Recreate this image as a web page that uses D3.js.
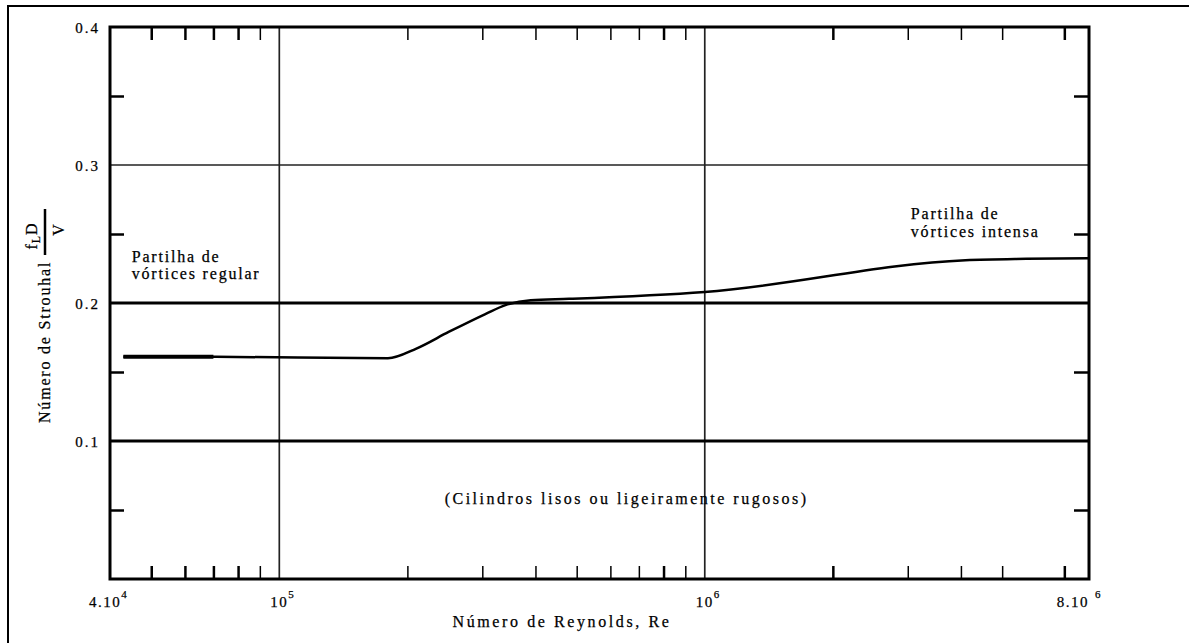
<!DOCTYPE html>
<html>
<head>
<meta charset="utf-8">
<script src="https://cdnjs.cloudflare.com/ajax/libs/d3/7.8.5/d3.min.js"></script>
<style>
  body { margin: 0; background: #fff; }
  svg text { font-family: "Liberation Serif", "DejaVu Serif", serif; fill: #000; stroke: #000; stroke-width: 0.25px; }
</style>
</head>
<body>
<script>
// Strouhal number vs Reynolds number
var reValues = [4.3e4, 7.0e4, 1.8e5, 2.1e5, 2.5e5, 3.05e5, 3.4e5, 3.9e5, 4.8e5, 1e6, 4.1e6, 5.7e6, 8e6];
var stValues = [0.161, 0.161, 0.160, 0.167, 0.179, 0.192, 0.1985, 0.202, 0.203, 0.208, 0.231, 0.232, 0.2325];

var xMinorTicks = [5e4, 6e4, 7e4, 8e4, 9e4, 2e5, 3e5, 4e5, 5e5, 6e5, 7e5, 8e5, 9e5, 2e6, 3e6, 4e6, 5e6, 7e6];
var xLabelValues = [4e4, 1e5, 1e6, 8e6];
var xLabelMant = ["4.10", "10", "10", "8.10"];
var xLabelExp = ["4", "5", "6", "6"];
var xGridValues = [1e5, 1e6];

var yLabelValues = [0.1, 0.2, 0.3, 0.4];
var yMinorTicks = [0.05, 0.15, 0.25, 0.35];
var yGridValues = [0.1, 0.2, 0.3];

var svgWidth = 1189;
var svgHeight = 643;
var margin = { top: 27, left: 110, right: 100, bottom: 64 };
var chartWidth = svgWidth - margin.left - margin.right;
var chartHeight = svgHeight - margin.top - margin.bottom;

var svg = d3.select('body')
    .append('svg')
    .attr('width', svgWidth)
    .attr('height', svgHeight)
    .attr('font-family', '"Liberation Serif", "DejaVu Serif", serif');

// outer frame (open on right and bottom, like the scan)
svg.append('rect')
    .attr('x', 8).attr('y', 6)
    .attr('width', 1300).attr('height', 800)
    .attr('fill', 'none').attr('stroke', '#000').attr('stroke-width', 2);

var chartGroup = svg.append('g')
    .attr('transform', `translate(${margin.left},${margin.top})`);

var xScale = d3.scaleLog().domain([4e4, 8e6]).range([0, chartWidth]);
var yScale = d3.scaleLinear().domain([0, 0.4]).range([chartHeight, 0]);

// grid lines
chartGroup.selectAll('.vgrid')
    .data(xGridValues)
    .enter()
    .append('line')
    .attr('x1', d => xScale(d)).attr('x2', d => xScale(d))
    .attr('y1', 0).attr('y2', chartHeight)
    .attr('stroke', '#222').attr('stroke-width', 1.7);

chartGroup.selectAll('.hgrid')
    .data(yGridValues)
    .enter()
    .append('line')
    .attr('x1', 0).attr('x2', chartWidth)
    .attr('y1', d => yScale(d)).attr('y2', d => yScale(d))
    .attr('stroke', d => d == 0.3 ? '#222' : '#000')
    .attr('stroke-width', d => d == 0.3 ? 1.7 : 3);

// minor ticks on all four sides, pointing inward
var heavy = [5e4, 6e4, 7e4, 8e4, 8e5, 2e6, 7e6];
function styleTicks(g, isX) {
    g.select('.domain').remove();
    g.selectAll('.tick line')
        .attr('stroke', '#000')
        .attr('stroke-width', d => (isX && heavy.indexOf(d) < 0) ? 1.5 : 2.5);
}
chartGroup.append('g')
    .attr('transform', `translate(0,${chartHeight})`)
    .call(d3.axisTop(xScale).tickValues(xMinorTicks).tickSize(13).tickFormat(''))
    .call(g => styleTicks(g, true));
chartGroup.append('g')
    .call(d3.axisBottom(xScale).tickValues(xMinorTicks).tickSize(13).tickFormat(''))
    .call(g => styleTicks(g, true));
chartGroup.append('g')
    .call(d3.axisRight(yScale).tickValues(yMinorTicks).tickSize(14).tickFormat(''))
    .call(g => styleTicks(g, false));
chartGroup.append('g')
    .attr('transform', `translate(${chartWidth},0)`)
    .call(d3.axisLeft(yScale).tickValues(yMinorTicks).tickSize(15).tickFormat(''))
    .call(g => styleTicks(g, false));

// y tick labels
var yAxis = chartGroup.append('g')
    .call(d3.axisLeft(yScale).tickValues(yLabelValues).tickSize(0).tickPadding(10).tickFormat(d3.format('.1f')));
yAxis.attr('font-family', null);
yAxis.select('.domain').remove();
yAxis.selectAll('text')
    .attr('font-size', '15px')
    .attr('letter-spacing', '2px')
    .attr('dy', '0.38em');

// x tick labels with superscript exponents
var xLab = chartGroup.selectAll('.xlab')
    .data(xLabelValues)
    .enter()
    .append('text')
    .attr('y', chartHeight + 28)
    .attr('font-size', '15px')
    .attr('letter-spacing', '1.5px');
xLab.append('tspan').text((d, i) => xLabelMant[i]);
xLab.append('tspan')
    .attr('dy', -9)
    .attr('font-size', '11px')
    .attr('dx', (d, i) => i == 3 ? 6 : 0)
    .text((d, i) => xLabelExp[i]);
// mantissa centred on the tick, last one ending at the axis end
xLab.attr('x', function (d, i) {
    var w = this.firstChild.getComputedTextLength();
    if (i == 3) return xScale(d) - w;
    return xScale(d) - w / 2 + (i == 0 ? -5 : 0);
});

// the curve
var line = d3.line()
    .x((d, i) => xScale(reValues[i]))
    .y(d => yScale(d))
    .curve(d3.curveMonotoneX);

chartGroup.append('path')
    .datum(stValues)
    .attr('d', line)
    .attr('fill', 'none')
    .attr('stroke', '#000')
    .attr('stroke-width', 2.5);

// heavier start of the curve
chartGroup.append('path')
    .datum(stValues.slice(0, 2))
    .attr('d', d3.line().x((d, i) => xScale(reValues[i])).y(d => yScale(d)))
    .attr('fill', 'none')
    .attr('stroke', '#000')
    .attr('stroke-width', 4);

// plot frame
chartGroup.append('rect')
    .attr('width', chartWidth).attr('height', chartHeight)
    .attr('fill', 'none').attr('stroke', '#000').attr('stroke-width', 3);

// annotations
function twoLines(re, st, l1, l2, gap) {
    var t = chartGroup.append('text')
        .attr('x', xScale(re))
        .attr('y', yScale(st))
        .attr('font-size', '16px')
        .attr('letter-spacing', '1.8px');
    t.append('tspan').attr('x', xScale(re)).text(l1);
    t.append('tspan').attr('x', xScale(re)).attr('dy', gap).text(l2);
}
twoLines(4.5e4, 0.2297, 'Partilha de', 'vórtices regular', 17);
twoLines(3.05e6, 0.2612, 'Partilha de', 'vórtices intensa', 18);

chartGroup.append('text')
    .attr('x', xScale(6.55e5))
    .attr('y', yScale(0.0543))
    .attr('text-anchor', 'middle')
    .attr('font-size', '16px')
    .attr('letter-spacing', '2.5px')
    .text('(Cilindros lisos ou ligeiramente rugosos)');

// x axis title
chartGroup.append('text')
    .attr('x', 452)
    .attr('y', chartHeight + 48)
    .attr('text-anchor', 'middle')
    .attr('font-size', '16px')
    .attr('letter-spacing', '2.6px')
    .text('Número de Reynolds, Re');

// y axis title with f_L D / V fraction
var yTitle = svg.append('g')
    .attr('transform', 'translate(50,423) rotate(-90)');
yTitle.append('text')
    .attr('x', 0).attr('y', 0)
    .attr('font-size', '16px')
    .attr('letter-spacing', '1.8px')
    .text('Número de Strouhal');
var frac = svg.append('g')
    .attr('transform', 'translate(45,232) rotate(-90)');
frac.append('line')
    .attr('x1', -23).attr('x2', 23)
    .attr('y1', 0).attr('y2', 0)
    .attr('stroke', '#000').attr('stroke-width', 2.5);
var num = frac.append('text')
    .attr('x', -4).attr('y', -8)
    .attr('text-anchor', 'middle')
    .attr('font-size', '16px')
    .attr('letter-spacing', '1px');
num.append('tspan').text('f');
num.append('tspan').attr('font-size', '12px').attr('dy', 3).text('L');
num.append('tspan').attr('dy', -3).text('D');
frac.append('text')
    .attr('x', 2).attr('y', 19)
    .attr('text-anchor', 'middle')
    .attr('font-size', '16px')
    .text('V');
</script>
</body>
</html>
